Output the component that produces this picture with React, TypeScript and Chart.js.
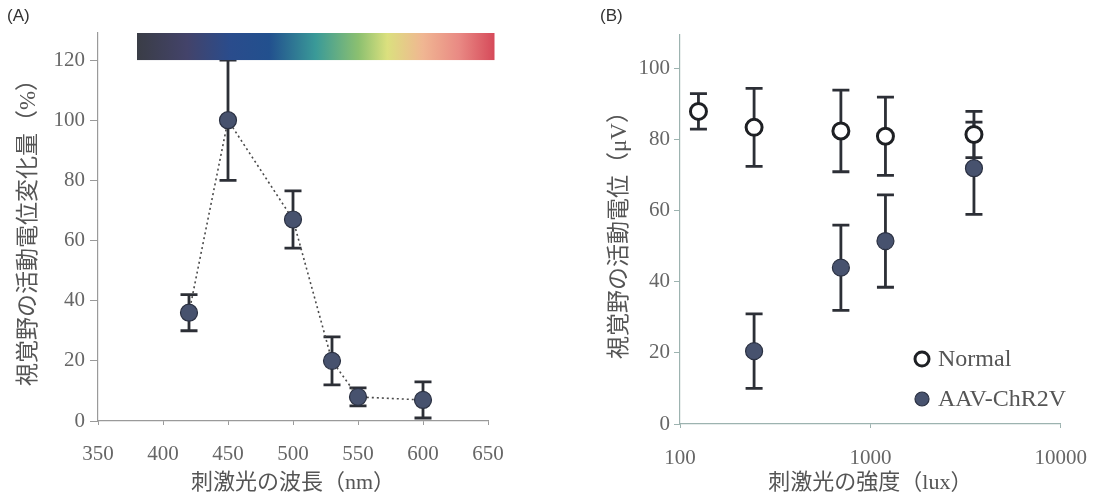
import React, { useEffect, useRef } from "react";
import { Chart, registerables } from "chart.js";
Chart.register(...registerables);

// ---- Panel A data ----
const wavelengths = [420, 450, 500, 530, 550, 600];
const waveResponse = [36, 100, 67, 20, 8, 7];
const waveError = [6, 20, 9.5, 8, 3, 6];
const waveXTicks = [350, 400, 450, 500, 550, 600, 650];
const waveYTicks = [0, 20, 40, 60, 80, 100, 120];
const spectrumRange = [380, 655];
const spectrumStops = [0, 0.14, 0.26, 0.37, 0.5, 0.62, 0.7, 0.8, 0.9, 1];
const spectrumColors = ["#3a3d46", "#43436a", "#2a4c8c", "#22508e", "#3a9a98", "#8cc070", "#dbe07e", "#f0b692", "#e98a84", "#d64a5a"];

// ---- Panel B data ----
const luxNormal = [125, 245, 700, 1200, 3500];
const normalValues = [88, 83.5, 82.5, 81, 81.5];
const normalError = [5, 11, 11.5, 11, 6.5];
const luxAAV = [245, 700, 1200, 3500];
const aavValues = [20.5, 44, 51.5, 72];
const aavError = [10.5, 12, 13, 13];
const luxXTicks = [100, 1000, 10000];
const luxYTicks = [0, 20, 40, 60, 80, 100];
const seriesNames = ["Normal", "AAV-ChR2V"];

const SERIF = "'Liberation Serif', 'Noto Sans CJK JP', serif";
const ERR_COLOR = "#2c2f36";
const FILL = "#47526e";

function errorBarPlugin(id: string, errors: number[][]) {
  return {
    id,
    beforeDatasetsDraw(chart: any) {
      const ctx = chart.ctx;
      const xs = chart.scales.x;
      const ys = chart.scales.y;
      ctx.save();
      ctx.strokeStyle = ERR_COLOR;
      ctx.lineWidth = 2.8;
      chart.data.datasets.forEach((ds: any, i: number) => {
        const errs = errors[i];
        if (!errs) return;
        ds.data.forEach((p: any, j: number) => {
          const x = xs.getPixelForValue(p.x);
          const y1 = ys.getPixelForValue(p.y + errs[j]);
          const y2 = ys.getPixelForValue(p.y - errs[j]);
          ctx.beginPath();
          ctx.moveTo(x, y1);
          ctx.lineTo(x, y2);
          ctx.moveTo(x - 8.5, y1);
          ctx.lineTo(x + 8.5, y1);
          ctx.moveTo(x - 8.5, y2);
          ctx.lineTo(x + 8.5, y2);
          ctx.stroke();
        });
      });
      ctx.restore();
    },
  };
}

const spectrumPlugin = {
  id: "spectrum",
  afterDatasetsDraw(chart: any) {
    const ctx = chart.ctx;
    const xs = chart.scales.x;
    const ys = chart.scales.y;
    const x1 = xs.getPixelForValue(spectrumRange[0]);
    const x2 = xs.getPixelForValue(spectrumRange[1]);
    const yTop = ys.getPixelForValue(ys.max);
    const yBot = ys.getPixelForValue(120);
    const g = ctx.createLinearGradient(x1, 0, x2, 0);
    spectrumStops.forEach((s, i) => g.addColorStop(s, spectrumColors[i]));
    ctx.save();
    ctx.fillStyle = g;
    ctx.fillRect(x1, yTop, x2 - x1, yBot - yTop);
    ctx.restore();
  },
};

const legendPlugin = {
  id: "innerLegend",
  afterDraw(chart: any) {
    const ctx = chart.ctx;
    const a = chart.chartArea;
    const mx = a.left + 242;
    const rows = [a.top + 324, a.top + 364];
    ctx.save();
    ctx.font = "24px " + SERIF;
    ctx.textBaseline = "middle";
    ctx.textAlign = "left";
    rows.forEach((y, i) => {
      ctx.beginPath();
      ctx.arc(mx, y, 7, 0, Math.PI * 2);
      if (i === 0) {
        ctx.fillStyle = "#ffffff";
        ctx.fill();
        ctx.lineWidth = 3;
        ctx.strokeStyle = "#1e2024";
        ctx.stroke();
      } else {
        ctx.fillStyle = FILL;
        ctx.fill();
        ctx.lineWidth = 1.2;
        ctx.strokeStyle = "#2b3142";
        ctx.stroke();
      }
      ctx.fillStyle = "#555";
      ctx.fillText(seriesNames[i], mx + 16, y + 1);
    });
    ctx.restore();
  },
};

export default function App() {
  const leftRef = useRef<HTMLCanvasElement | null>(null);
  const rightRef = useRef<HTMLCanvasElement | null>(null);

  useEffect(() => {
    const left = new Chart(leftRef.current as HTMLCanvasElement, {
      type: "scatter",
      data: {
        datasets: [
          {
            data: wavelengths.map((x, i) => ({ x, y: waveResponse[i] })),
            showLine: true,
            borderColor: "#4a4a4a",
            borderWidth: 1.6,
            borderDash: [2, 3],
            pointRadius: 8.5,
            pointBackgroundColor: FILL,
            pointBorderColor: "#2b3142",
            pointBorderWidth: 1.2,
          },
        ],
      },
      options: {
        animation: false,
        responsive: false,
        events: [],
        layout: { padding: { left: 0, right: 72, top: 33, bottom: 0 } },
        plugins: { legend: { display: false }, tooltip: { enabled: false } },
        scales: {
          x: {
            type: "linear",
            min: 350,
            max: 650,
            afterBuildTicks: (s: any) => { s.ticks = waveXTicks.map((v) => ({ value: v })); },
            afterFit: (s: any) => { s.height = 79; },
            border: { display: true, color: "#9a9a9a", width: 1.2 },
            grid: { display: true, drawOnChartArea: false, tickLength: 4, color: "#9a9a9a", tickColor: "#9a9a9a" },
            ticks: { color: "#666", font: { family: SERIF, size: 21 }, padding: 17, maxRotation: 0, callback: (v: any) => String(v) },
            title: { display: true, text: "刺激光の波長（nm）", color: "#555", font: { family: SERIF, size: 22 }, padding: { top: 4, bottom: 4 } },
          },
          y: {
            type: "linear",
            min: 0,
            max: 129,
            afterBuildTicks: (s: any) => { s.ticks = waveYTicks.map((v) => ({ value: v })); },
            afterFit: (s: any) => { s.width = 98; },
            border: { display: true, color: "#9a9a9a", width: 1.2 },
            grid: { display: true, drawOnChartArea: false, tickLength: 8, color: "#9a9a9a", tickColor: "#9a9a9a" },
            ticks: { color: "#666", font: { family: SERIF, size: 21 }, padding: 5, callback: (v: any) => String(v) },
            title: { display: true, text: "視覚野の活動電位変化量（%）", color: "#555", font: { family: SERIF, size: 23 }, padding: { top: 15, bottom: 15 } },
          },
        },
      },
      plugins: [errorBarPlugin("errA", [waveError]), spectrumPlugin],
    } as any);

    const right = new Chart(rightRef.current as HTMLCanvasElement, {
      type: "scatter",
      data: {
        datasets: [
          {
            label: seriesNames[0],
            data: luxNormal.map((x, i) => ({ x, y: normalValues[i] })),
            pointRadius: 8,
            pointBackgroundColor: "#ffffff",
            pointBorderColor: "#1e2024",
            pointBorderWidth: 3,
          },
          {
            label: seriesNames[1],
            data: luxAAV.map((x, i) => ({ x, y: aavValues[i] })),
            pointRadius: 8.5,
            pointBackgroundColor: FILL,
            pointBorderColor: "#2b3142",
            pointBorderWidth: 1.2,
          },
        ],
      },
      options: {
        animation: false,
        responsive: false,
        events: [],
        layout: { padding: { left: 0, right: 36, top: 35, bottom: 0 } },
        plugins: { legend: { display: false }, tooltip: { enabled: false } },
        scales: {
          x: {
            type: "logarithmic",
            min: 100,
            max: 10000,
            afterBuildTicks: (s: any) => { s.ticks = luxXTicks.map((v) => ({ value: v })); },
            afterFit: (s: any) => { s.height = 76; },
            border: { display: true, color: "#9db3b0", width: 1.2 },
            grid: { display: true, drawOnChartArea: false, tickLength: 4, color: "#9db3b0", tickColor: "#9db3b0" },
            ticks: { color: "#666", font: { family: SERIF, size: 21 }, padding: 18, maxRotation: 0, autoSkip: false, callback: (v: any) => String(v) },
            title: { display: true, text: "刺激光の強度（lux）", color: "#555", font: { family: SERIF, size: 22 }, padding: { top: 4, bottom: 4 } },
          },
          y: {
            type: "linear",
            min: 0,
            max: 109.5,
            afterBuildTicks: (s: any) => { s.ticks = luxYTicks.map((v) => ({ value: v })); },
            afterFit: (s: any) => { s.width = 120; },
            border: { display: true, color: "#9db3b0", width: 1.2 },
            grid: { display: true, drawOnChartArea: false, tickLength: 6, color: "#9db3b0", tickColor: "#9db3b0" },
            ticks: { color: "#666", font: { family: SERIF, size: 21 }, padding: 4, callback: (v: any) => String(v) },
            title: { display: true, text: "視覚野の活動電位（μV）", color: "#555", font: { family: SERIF, size: 23 }, padding: { top: 46, bottom: 46 } },
          },
        },
      },
      plugins: [errorBarPlugin("errB", [normalError, aavError]), legendPlugin],
    } as any);

    return () => {
      left.destroy();
      right.destroy();
    };
  }, []);

  const label: React.CSSProperties = {
    position: "absolute",
    top: 6,
    fontFamily: "'Liberation Sans', 'DejaVu Sans', sans-serif",
    fontSize: 17,
    color: "#333",
  };

  return (
    <div style={{ position: "absolute", left: 0, top: 0, width: 1105, height: 500, background: "#fff", overflow: "hidden" }}>
      <canvas ref={leftRef} width={560} height={500} style={{ position: "absolute", left: 0, top: 0, width: 560, height: 500 }} />
      <canvas ref={rightRef} width={545} height={500} style={{ position: "absolute", left: 560, top: 0, width: 545, height: 500 }} />
      <div style={{ ...label, left: 7 }}>(A)</div>
      <div style={{ ...label, left: 600 }}>(B)</div>
    </div>
  );
}
